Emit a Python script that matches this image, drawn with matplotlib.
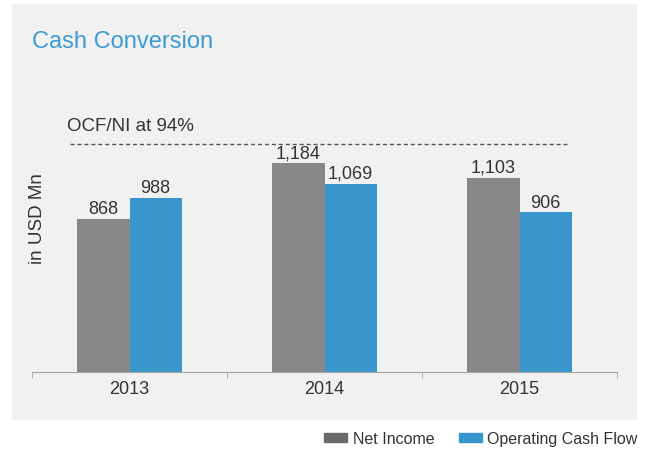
import numpy as np
import matplotlib.pyplot as plt
from matplotlib.patches import Rectangle, Patch

years = ['2013', '2014', '2015']
net_income = [868, 1184, 1103]
op_cash_flow = [988, 1069, 906]
ratio_label = 'OCF/NI at 94%'
ratio_level = 1295

GRAY = '#878787'
BLUE = '#3996cc'
TXT = '#333333'

plt.rcParams['font.family'] = ['Liberation Sans', 'DejaVu Sans']

W, H = 645, 452
fig = plt.figure(figsize=(W / 100, H / 100), dpi=100)

# light panel behind the chart
fig.patches.append(Rectangle((12 / W, 1 - 421 / H), (637 - 12) / W, (421 - 5) / H,
                             transform=fig.transFigure, facecolor='#f1f1f1',
                             edgecolor='none', zorder=-5))

ax = fig.add_axes([32 / W, 1 - 373 / H, (617 - 32) / W, (373 - 100) / H])
ax.set_facecolor('none')

x = np.arange(len(years))
bw = 0.268
b1 = ax.bar(x - bw / 2, net_income, bw, color=GRAY)
b2 = ax.bar(x + bw / 2, op_cash_flow, bw, color=BLUE)

for bars, vals in ((b1, net_income), (b2, op_cash_flow)):
    for b, v in zip(bars, vals):
        ax.text(b.get_x() + b.get_width() / 2, v + 10, f'{v:,}', ha='center', va='bottom',
                fontsize=13, color=TXT)

ax.plot([-0.305, 2.245], [ratio_level, ratio_level], ls=(0, (2.9, 2.1)), color='#555555', lw=1)
ax.text(-0.318, ratio_level + 55, ratio_label, ha='left', va='bottom', fontsize=13.5, color=TXT)

ax.set_xlim(-0.5, 2.5)
ax.set_ylim(0, 1550)
for s in ['top', 'right', 'left']:
    ax.spines[s].set_visible(False)
ax.spines['bottom'].set_color('#a6a6a6')
ax.set_yticks([])
ax.set_xticks(x)
ax.set_xticklabels(years, fontsize=13, color=TXT)
ax.tick_params(axis='x', which='major', length=0, pad=6)
ax.set_xticks([-0.5, 0.5, 1.5, 2.5], minor=True)
ax.tick_params(axis='x', which='minor', length=4, color='#a6a6a6')

fig.text(37 / W, 1 - 219 / H, 'in USD Mn', rotation=90, ha='center', va='center',
         fontsize=13.5, color=TXT)
fig.text(32 / W, 1 - 42 / H, 'Cash Conversion', ha='left', va='center',
         fontsize=17, color='#3d9bd3')

handles = [Patch(color='#67696a', label='Net Income'), Patch(color=BLUE, label='Operating Cash Flow')]
fig.legend(handles=handles, loc='center right', bbox_to_anchor=(652 / W, 1 - 440 / H), ncol=2,
           frameon=False, fontsize=11.5, handlelength=1.45, handleheight=0.5,
           handletextpad=0.35, columnspacing=1.5, labelcolor=TXT)

fig.savefig('out.png', dpi=100)
